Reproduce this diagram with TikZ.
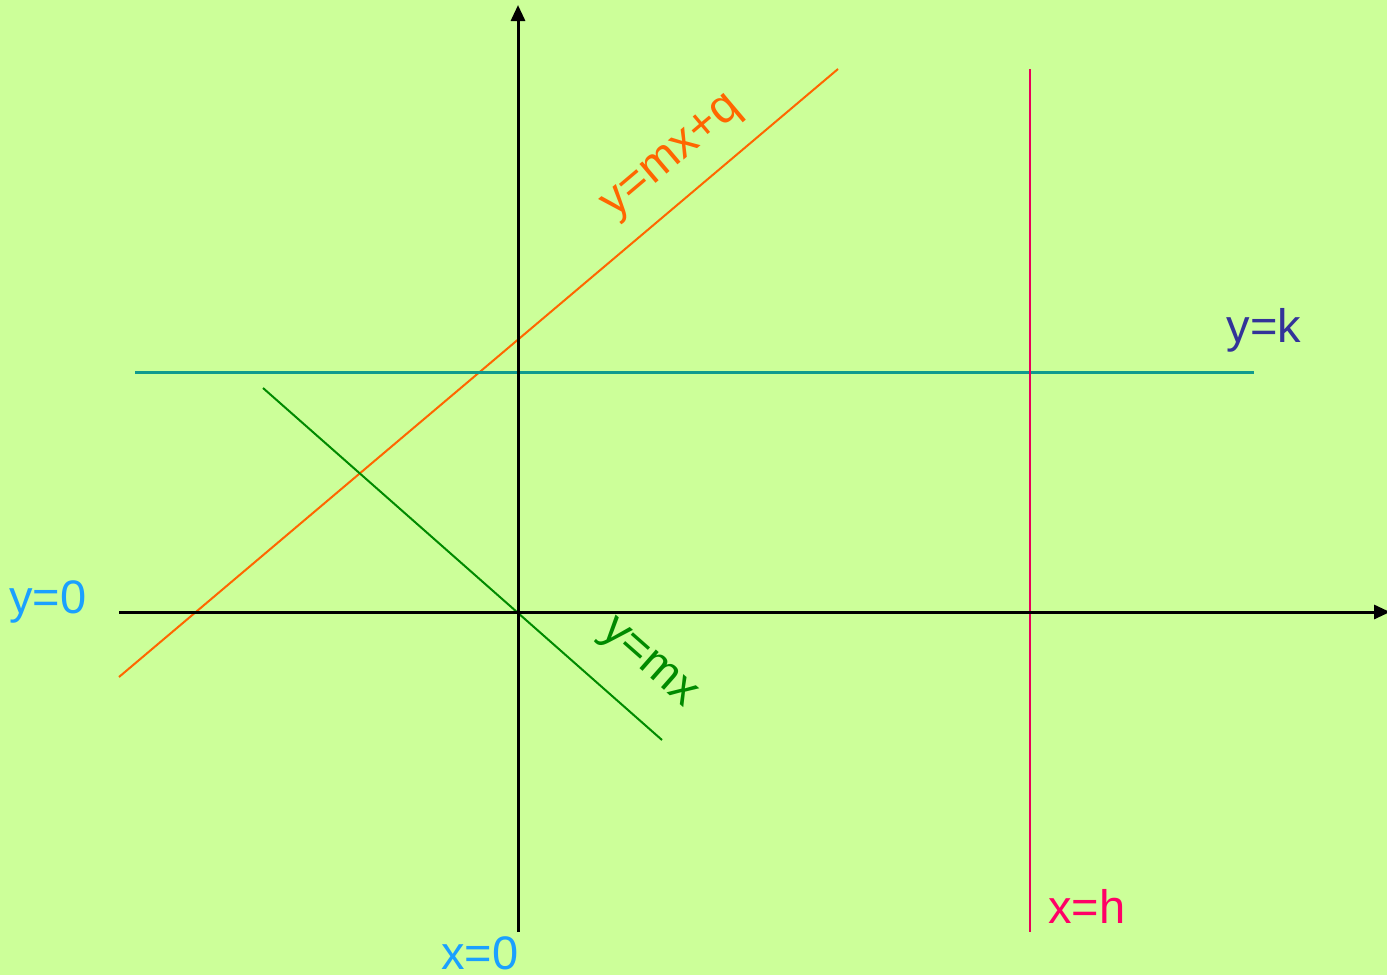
\documentclass[tikz,border=0pt]{standalone}
\usepackage{fontspec}
\setmainfont{Liberation Sans}
\usetikzlibrary{arrows.meta}
\definecolor{bg}{HTML}{CCFF99}
\definecolor{orangel}{HTML}{FF6600}
\definecolor{tealline}{HTML}{109A8E}
\definecolor{greenl}{HTML}{008A00}
\definecolor{redl}{HTML}{E8005A}
\definecolor{skyb}{HTML}{1AA0FF}
\definecolor{navyk}{HTML}{333399}
\definecolor{pinkh}{HTML}{FF0066}
\tikzset{
  axis/.style={line width=1.5pt, black, -{Triangle[length=8pt,width=7pt]}},
  thinline/.style={line width=1pt},
  lbl/.style={font=\fontsize{23.5}{27}\selectfont, inner sep=0pt}
}
\begin{document}
\begin{tikzpicture}[x=0.5pt,y=-0.5pt]
\fill[bg] (0,0) rectangle (1387,975);
\useasboundingbox (0,0) rectangle (1387,975);
% coordinates
\coordinate (yb) at (518,932);
\coordinate (yt) at (518,5);
\coordinate (xl) at (119,612);
\coordinate (xr) at (1390,612);
\coordinate (o1) at (119,677);
\coordinate (o2) at (838,69);
\coordinate (k1) at (135,372);
\coordinate (k2) at (1254,372);
\coordinate (g1) at (263,388);
\coordinate (g2) at (662,740);
\coordinate (h1) at (1030,69);
\coordinate (h2) at (1030,932);
% lines
\draw[thinline, orangel] (o1) -- (o2);
\draw[line width=1.5pt, tealline] (k1) -- (k2);
\draw[thinline, greenl] (g1) -- (g2);
\draw[line width=1.4pt, redl] (h1) -- (h2);
\draw[axis] (yb) -- (yt);
\draw[axis] (xl) -- (xr);
% labels
\node[lbl, skyb] (ly0) at (48,602) {y=0};
\node[lbl, skyb] (lx0) at (480,953) {x=0};
\node[lbl, pinkh] (lxh) at (1087,906) {x=h};
\node[lbl, navyk] (lyk) at (1264,330) {y=k};
\node[lbl, greenl, rotate=-41.4] (lmx) at (647,665) {y=mx};
\node[lbl, orangel, rotate=40.2] (lmq) at (673,158) {y=mx+q};
\end{tikzpicture}
\end{document}
